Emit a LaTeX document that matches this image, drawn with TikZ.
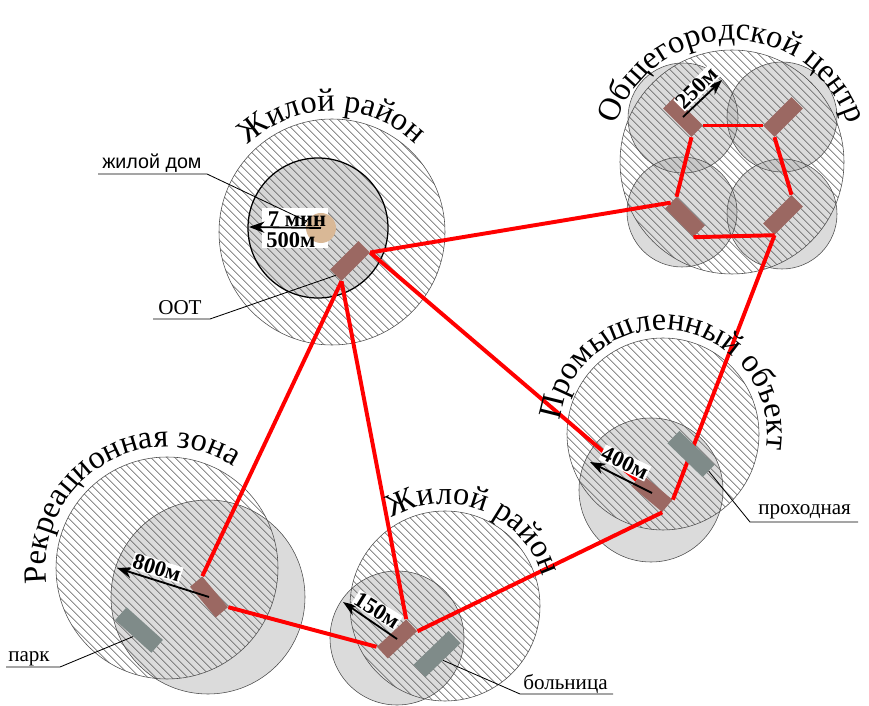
\documentclass[tikz,border=0pt]{standalone}
\usepackage{fontspec}
\setmainfont{Liberation Serif}
\newfontfamily\labelsans{Liberation Sans}
\usetikzlibrary{patterns.meta,decorations.text,arrows.meta}
\definecolor{oot}{RGB}{155,104,98}
\definecolor{obj}{RGB}{127,139,137}
\definecolor{house}{RGB}{217,184,150}
\newcommand\zonefont{\fontsize{23}{27}\selectfont}

\begin{document}
\begin{tikzpicture}[x=0.025cm,y=0.025cm,
  zone/.style={draw=black!70,line width=0.4pt},
  hatch/.style={pattern={Lines[angle=-45,distance=4pt,line width=0.5pt]},pattern color=black!65},
  reach/.style={fill=black!28,fill opacity=0.5},
  stop/.style={fill=oot,minimum width=1cm,minimum height=0.4cm,inner sep=0pt},
  site/.style={fill=obj,minimum width=1.22cm,minimum height=0.43cm,inner sep=0pt},
  link/.style={red,line width=2.8pt},
  dist/.style={line width=1.3pt,-{Stealth[length=11pt,width=8pt]}},
  distlabel/.style={fill=white,inner sep=0.5pt,font=\fontsize{16}{18}\selectfont\bfseries},
  callout/.style={anchor=base west,inner sep=0pt,font=\fontsize{15}{17}\selectfont},
  leader/.style={line width=0.6pt},
  title/.style={decorate,decoration={text along path,text align=center,text={|\zonefont|#1}}}]
\useasboundingbox (0,0) rectangle (869,705);

\fill[white] (332,473) circle[radius=113];
\fill[black!16] (318,477) circle[radius=70];
\draw[zone,hatch] (332,473) circle[radius=113];
\draw[line width=0.9pt] (318,477) circle[radius=70];

\fill[white] (732,543) circle[radius=112];
\foreach \p in {(683,587),(782,588),(682,493),(782,491)}
  \fill[reach] \p circle[radius=55];
\draw[zone,hatch] (732,543) circle[radius=112];
\foreach \p in {(683,587),(782,588),(682,493),(782,491)}
  \draw[zone] \p circle[radius=55];

\fill[white] (663,271) circle[radius=96];
\fill[reach] (651,215) circle[radius=72];
\draw[zone,hatch] (663,271) circle[radius=96];
\draw[zone] (651,215) circle[radius=72];

\fill[white] (167,137) circle[radius=111];
\fill[reach] (208,108) circle[radius=97];
\draw[zone,hatch] (167,137) circle[radius=111];
\draw[zone] (208,108) circle[radius=97];

\fill[white] (445,99) circle[radius=95];
\fill[reach] (397,67) circle[radius=67];
\draw[zone,hatch] (445,99) circle[radius=95];
\draw[zone] (397,67) circle[radius=67];

\node[stop,rotate=45] (oot1) at (350,444) {};
\node[stop,rotate=-45] (cTL) at (683,588) {};
\node[stop,rotate=45] (cTR) at (783,588) {};
\node[stop,rotate=-45] (cBL) at (685,488) {};
\node[stop,rotate=45] (cBR) at (783,490) {};
\node[stop,rotate=-40] (oot3) at (652,212) {};
\node[stop,rotate=-50] (oot4) at (209,108) {};
\node[stop,rotate=43] (oot5) at (397,66) {};

\draw[link] (oot1.south east) -- (cBL.west);
\draw[link] (oot1.south east) -- (oot3.west);
\draw[link] (oot1.south west) -- (oot4.north west);
\draw[link] (oot1.south west) -- (oot5.north east);
\draw[link] (oot4.north east) -- (oot5.north west);
\draw[link] (oot5.south east) -- (oot3.south east);
\draw[link] (oot3.north east) -- (cBR.south west);
\draw[link] (cTL.north east) -- (cTR.north west);
\draw[link] (cTL.south east) -- (cBL.north west);
\draw[link] (cTR.south west) -- (cBR.north east);
\draw[link] (cBL.south east) -- (cBR.south west);

\node[site,rotate=-44] (gate) at (691,251) {};
\node[site,rotate=-42] (park) at (139,75) {};
\node[site,rotate=44] (hosp) at (437,51) {};

\fill[white] (262,457) rectangle (328,497);
\node[circle,fill=house,minimum size=0.75cm,inner sep=0pt] (home) at (321,477) {};
\coordinate (r500) at (249,478);
\draw[dist] (home.center) -- (r500);
\node[distlabel,fill=none] (t7) at (297,486) {7 мин};
\node[distlabel,fill=none] (t500) at (291,465) {500м};

\coordinate (r250) at (722,625);
\draw[dist] (cTL.center) -- (r250);
\node[distlabel,rotate=45] (t250) at (697,617) {250м};

\coordinate (r400) at (590,243);
\draw[dist] (oot3.center) -- (r400);
\node[distlabel,rotate=-26] (t400) at (625,242) {400м};

\coordinate (r800) at (117,137);
\draw[dist] (oot4.center) -- (r800);
\node[distlabel,rotate=-17.6] (t800) at (157,137) {800м};

\coordinate (r150) at (343,103);
\draw[dist] (oot5.center) -- (r150);
\node[distlabel,rotate=-32] (t150) at (377,95) {150м};

\node[callout,font=\labelsans\fontsize{14}{16}\selectfont] (lhome) at (102,536) {жилой дом};
\coordinate (khome) at (207,531);
\coordinate (ehome) at (98,531);
\draw[leader] (home) -- (khome) -- (ehome);

\node[callout] (loot) at (158,390) {ООТ};
\coordinate (koot) at (210,386);
\coordinate (eoot) at (153,386);
\draw[leader] (oot1.west) -- (koot) -- (eoot);

\node[callout] (lpark) at (8,44) {парк};
\coordinate (kpark) at (60,38);
\coordinate (epark) at (6,38);
\draw[leader] (park.south) -- (kpark) -- (epark);

\node[callout] (lgate) at (758,190) {проходная};
\coordinate (kgate) at (750,183);
\coordinate (egate) at (858,183);
\draw[leader] (gate.east) -- (kgate) -- (egate);

\node[callout] (lhosp) at (523,16) {больница};
\coordinate (khosp) at (520,11);
\coordinate (ehosp) at (613,11);
\draw[leader] (hosp.south) -- (khosp) -- (ehosp);

\path[title=Жилой район] (332,473) ++(170:121) arc[start angle=170,end angle=10,radius=121];
\path[title=Общегородской центр] (732,543) ++(170:122) arc[start angle=170,end angle=10,radius=122];
\path[title=Промышленный объект] (663,271) ++(175:104) arc[start angle=175,end angle=-11,radius=104];
\path[title=Рекреационная зона] (167,137) ++(215:121) arc[start angle=215,end angle=29,radius=121];
\path[title=Жилой район] (445,99) ++(160:102) arc[start angle=160,end angle=-22,radius=102];
\end{tikzpicture}
\end{document}
